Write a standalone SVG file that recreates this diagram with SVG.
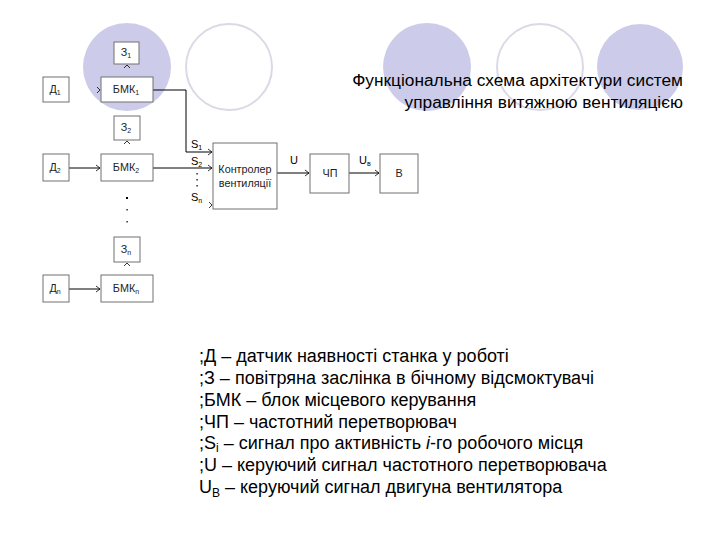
<svg xmlns="http://www.w3.org/2000/svg" width="720" height="540" viewBox="0 0 720 540">
<defs>
<style>
.fc{fill:#ccccea;stroke:none}
.oc{fill:none;stroke:#dadae6;stroke-width:2}
.bx{fill:#fff;stroke:#707070;stroke-width:1}
.bt{font-family:"Liberation Sans",Arial,sans-serif;font-size:10.8px;fill:#222;text-anchor:middle}
.sub{font-size:7px}
.ln{fill:none;stroke:#000;stroke-width:1}
.ah{fill:none;stroke:#000;stroke-width:0.8}
.lbl{font-family:"Liberation Sans",Arial,sans-serif;font-size:11px;fill:#000}
.title{font-family:"Liberation Sans",Arial,sans-serif;font-size:17.3px;fill:#000;text-anchor:end}
.leg{font-family:"Liberation Sans",Arial,sans-serif;font-size:18px;fill:#000}
</style>
<marker id="arr" markerWidth="6" markerHeight="8" refX="5" refY="4" orient="auto" markerUnits="userSpaceOnUse">
<path d="M1,1 L5,4 L1,7" class="ah"/>
</marker>
</defs>
<rect width="720" height="540" fill="#fff"/>
<g id="background">
<circle class="fc" cx="127" cy="67" r="44"/>
<circle class="oc" cx="229" cy="67" r="43"/>
<circle class="fc" cx="427" cy="67" r="44"/>
<circle class="oc" cx="540" cy="67" r="43"/>
<circle class="fc" cx="640" cy="67" r="43"/>
</g>
<g id="connectors">
<path class="ln" d="M153,90 H186 V152 H212" marker-end="url(#arr)"/>
<path class="ln" d="M69,168 H100" marker-end="url(#arr)"/>
<path class="ln" d="M153,168 H212" marker-end="url(#arr)"/>
<path class="ln" d="M69,289 H100" marker-end="url(#arr)"/>
<path class="ln" d="M277,173 H309" marker-end="url(#arr)"/>
<path class="ln" d="M349,173 H379" marker-end="url(#arr)"/>
<path class="ah" d="M97,87 L100,90 L97,93"/>
<path class="ah" d="M209,202 L212,205 L209,208"/>
<path class="ah" d="M124,68 L127,65 L130,68"/>
<path class="ah" d="M124,144 L127,141 L130,144"/>
<path class="ah" d="M124,266 L127,263 L130,266"/>
<text class="lbl" x="191" y="148">S<tspan class="sub" dy="2">1</tspan></text>
<text class="lbl" x="191" y="165">S<tspan class="sub" dy="2">2</tspan></text>
<text class="lbl" x="191" y="201">S<tspan class="sub" dy="2">n</tspan></text>
<text class="lbl" x="290" y="164">U</text>
<text class="lbl" x="359" y="164">U<tspan class="sub" dy="2">в</tspan></text>
<g fill="#000">
<rect x="196.5" y="173" width="1.2" height="1.5"/>
<rect x="196.5" y="179" width="1.2" height="1.5"/>
<rect x="196.5" y="185" width="1.2" height="1.5"/>
<rect x="126" y="197" width="2" height="2"/>
<rect x="126.5" y="209" width="1.2" height="1.5"/>
<rect x="126.5" y="221" width="1.2" height="1.5"/>
</g>
</g>
<g id="Z1"><rect class="bx" x="114" y="42" width="25" height="22"/><text class="bt" x="126" y="56">З<tspan class="sub" dy="2">1</tspan></text></g>
<g id="D1"><rect class="bx" x="43" y="77" width="26" height="25"/><text class="bt" x="55" y="93">Д<tspan class="sub" dy="2">1</tspan></text></g>
<g id="BMK1"><rect class="bx" x="101" y="77" width="52" height="25"/><text class="bt" x="126" y="93">БМК<tspan class="sub" dy="2">1</tspan></text></g>
<g id="Z2"><rect class="bx" x="114" y="116" width="26" height="24"/><text class="bt" x="126" y="131">З<tspan class="sub" dy="2">2</tspan></text></g>
<g id="D2"><rect class="bx" x="43" y="154" width="26" height="27"/><text class="bt" x="55" y="171">Д<tspan class="sub" dy="2">2</tspan></text></g>
<g id="BMK2"><rect class="bx" x="101" y="154" width="52" height="27"/><text class="bt" x="126" y="171">БМК<tspan class="sub" dy="2">2</tspan></text></g>
<g id="Zn"><rect class="bx" x="114" y="237" width="26" height="25"/><text class="bt" x="126" y="253">З<tspan class="sub" dy="2">n</tspan></text></g>
<g id="Dn"><rect class="bx" x="43" y="275" width="26" height="27"/><text class="bt" x="55" y="292">Д<tspan class="sub" dy="2">n</tspan></text></g>
<g id="BMKn"><rect class="bx" x="101" y="275" width="52" height="27"/><text class="bt" x="126" y="292">БМК<tspan class="sub" dy="2">n</tspan></text></g>
<g id="controller"><rect class="bx" x="213" y="143" width="64" height="66"/><text class="bt" x="245" y="173">Контролер</text><text class="bt" x="245" y="187">вентиляції</text></g>
<g id="CHP"><rect class="bx" x="310" y="154" width="39" height="39"/><text class="bt" x="330" y="177">ЧП</text></g>
<g id="V"><rect class="bx" x="380" y="154" width="38" height="39"/><text class="bt" x="399" y="177">В</text></g>
<g id="title">
<text class="title" x="683" y="86">Функціональна схема архітектури систем</text>
<text class="title" x="683" y="108">управління витяжною вентиляцією</text>
</g>
<g id="legend">
<text class="leg" x="199" y="362">;Д – датчик наявності станка у роботі</text>
<text class="leg" x="199" y="384">;З – повітряна заслінка в бічному відсмоктувачі</text>
<text class="leg" x="199" y="406">;БМК – блок місцевого керування</text>
<text class="leg" x="199" y="428">;ЧП – частотний перетворювач</text>
<text class="leg" x="199" y="449">;S<tspan font-size="12" dy="3">i</tspan><tspan dy="-3"> – сигнал про активність </tspan><tspan font-style="italic">i</tspan>-го робочого місця</text>
<text class="leg" x="199" y="471">;U – керуючий сигнал частотного перетворювача</text>
<text class="leg" x="199" y="493">U<tspan font-size="12" dy="4">B</tspan><tspan dy="-4"> – керуючий сигнал двигуна вентилятора</tspan></text>
</g>
</svg>
